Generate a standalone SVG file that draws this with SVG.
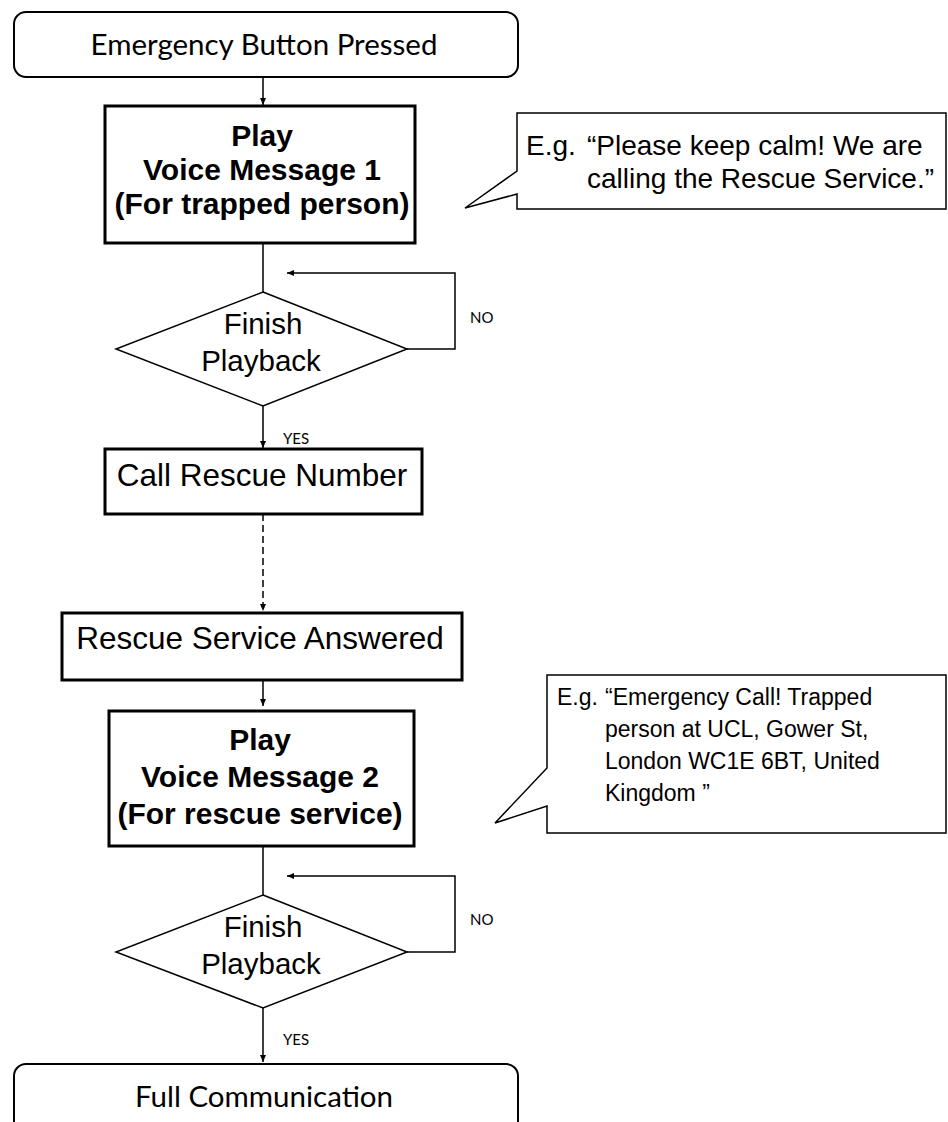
<svg xmlns="http://www.w3.org/2000/svg" width="948" height="1122" viewBox="0 0 948 1122">
<defs>
<marker id="ah" markerWidth="8" markerHeight="8" refX="7" refY="4" orient="auto" markerUnits="userSpaceOnUse">
<path d="M0,1 L7,4 L0,7 Z" fill="#000"/>
</marker>
<style>
.rb{fill:#fff;stroke:#000;stroke-width:2}
.bx{fill:#fff;stroke:#000;stroke-width:3}
.dm{fill:#fff;stroke:#000;stroke-width:1.5}
.co{fill:#fff;stroke:#000;stroke-width:1.5}
.cn{fill:none;stroke:#000;stroke-width:1.5}
.cal{font-family:Lato,"Open Sans",sans-serif;font-size:29.5px;fill:#000;text-anchor:middle}
.bold{font-family:"Liberation Sans",Arial,sans-serif;font-size:30px;font-weight:bold;fill:#000;text-anchor:middle}
.big{font-family:"Liberation Sans",Arial,sans-serif;font-size:31.5px;fill:#000;text-anchor:middle}
.dt{font-family:"Liberation Sans",Arial,sans-serif;font-size:29.5px;fill:#000;text-anchor:middle}
.ct{font-family:"Liberation Sans",Arial,sans-serif;font-size:28px;fill:#000}
.ct2{font-family:"Liberation Sans",Arial,sans-serif;font-size:23px;fill:#000}
.lb{font-family:Lato,"Open Sans",sans-serif;font-size:15px;fill:#000}
</style>
</defs>

<g id="connectors">
<line class="cn" x1="263" y1="77" x2="263" y2="105" marker-end="url(#ah)"/>
<line class="cn" x1="263" y1="243" x2="263" y2="292"/>
<polyline class="cn" points="407,349 455,349 455,273 287,273" marker-end="url(#ah)"/>
<line class="cn" x1="263" y1="406" x2="263" y2="448" marker-end="url(#ah)"/>
<line class="cn" x1="263" y1="514" x2="263" y2="611" stroke-dasharray="7,4" marker-end="url(#ah)"/>
<line class="cn" x1="263" y1="680" x2="263" y2="706" marker-end="url(#ah)"/>
<line class="cn" x1="263" y1="846" x2="263" y2="895"/>
<polyline class="cn" points="407,952 455,952 455,876 287,876" marker-end="url(#ah)"/>
<line class="cn" x1="263" y1="1008" x2="263" y2="1062" marker-end="url(#ah)"/>
<text class="lb" x="470" y="323">NO</text>
<text class="lb" x="283" y="444">YES</text>
<text class="lb" x="470" y="925">NO</text>
<text class="lb" x="283" y="1045">YES</text>
</g>

<g id="start">
<rect class="rb" x="14" y="12" width="504" height="65" rx="12"/>
<text class="cal" x="264" y="55">Emergency Button Pressed</text>
</g>

<g id="play1">
<rect class="bx" x="105" y="106" width="310" height="137"/>
<text class="bold" x="262" y="146">Play</text>
<text class="bold" x="262" y="180">Voice Message 1</text>
<text class="bold" x="262" y="214">(For trapped person)</text>
</g>

<g id="callout1">
<path class="co" d="M517,113 H946 V209 H517 V194 L465,208 L517,171 Z"/>
<text class="ct" x="526" y="155">E.g.</text>
<text class="ct" x="587" y="155">“Please keep calm! We are</text>
<text class="ct" x="587" y="188">calling the Rescue Service.”</text>
</g>

<g id="decision1">
<polygon class="dm" points="263,292 407,349 263,406 116,349"/>
<text class="dt" x="263" y="334">Finish</text>
<text class="dt" x="261" y="371">Playback</text>
</g>

<g id="call">
<rect class="bx" x="105" y="449" width="317" height="65"/>
<text class="big" x="262" y="486">Call Rescue Number</text>
</g>

<g id="answered">
<rect class="bx" x="62" y="613" width="400" height="67"/>
<text class="big" x="260" y="649">Rescue Service Answered</text>
</g>

<g id="play2">
<rect class="bx" x="109" y="711" width="305" height="135"/>
<text class="bold" x="260" y="750">Play</text>
<text class="bold" x="260" y="787">Voice Message 2</text>
<text class="bold" x="260" y="824">(For rescue service)</text>
</g>

<g id="callout2">
<path class="co" d="M547,675 H946 V833 H547 V806 L495,823 L547,768 Z"/>
<text class="ct2" x="557" y="705">E.g.</text>
<text class="ct2" x="605" y="705">“Emergency Call! Trapped</text>
<text class="ct2" x="605" y="737">person at UCL, Gower St,</text>
<text class="ct2" x="605" y="769">London WC1E 6BT, United</text>
<text class="ct2" x="605" y="801">Kingdom ”</text>
</g>

<g id="decision2">
<polygon class="dm" points="263,895 407,952 263,1008 116,952"/>
<text class="dt" x="263" y="937">Finish</text>
<text class="dt" x="261" y="974">Playback</text>
</g>

<g id="end">
<rect class="rb" x="14" y="1064" width="504" height="80" rx="12"/>
<text class="cal" x="264" y="1107">Full Communication</text>
</g>
</svg>
